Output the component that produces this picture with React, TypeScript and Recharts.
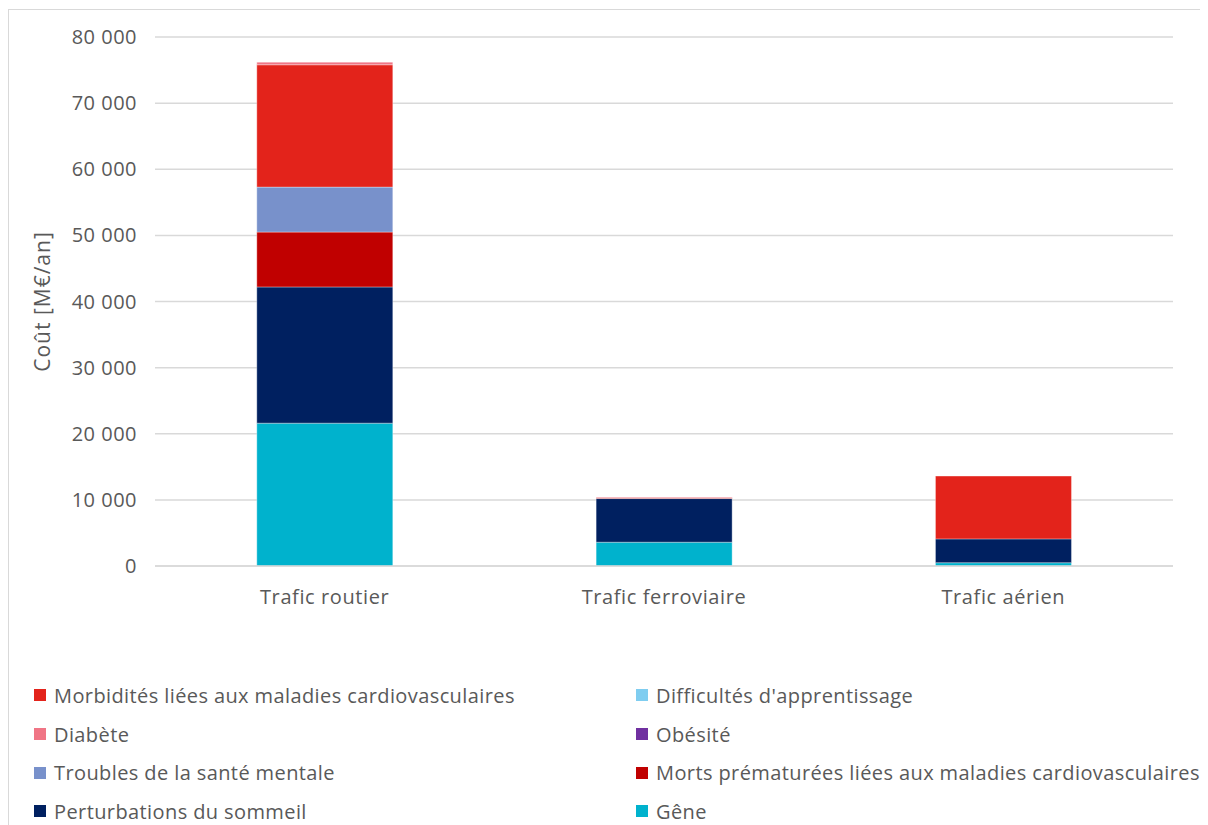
import React from 'react';
import { BarChart, Bar, XAxis, YAxis, CartesianGrid, Label } from 'recharts';

const categories = ['Trafic routier', 'Trafic ferroviaire', 'Trafic aérien'];

// valeurs en M€/an
const gene = [21600, 3600, 500];
const sommeil = [20600, 6600, 3600];
const mortsPrematurees = [8300, 0, 0];
const santeMentale = [6800, 0, 0];
const obesite = [0, 0, 0];
const apprentissage = [0, 0, 0];
const morbidites = [18500, 120, 9500];
const diabete = [400, 100, 0];

const yTicks = [0, 10000, 20000, 30000, 40000, 50000, 60000, 70000, 80000];

// ordre d'empilement, du bas vers le haut
const series = [
  { key: 'gene', name: 'Gêne', color: '#00B2CD', values: gene },
  { key: 'sommeil', name: 'Perturbations du sommeil', color: '#002060', values: sommeil },
  { key: 'morts', name: 'Morts prématurées liées aux maladies cardiovasculaires', color: '#C00000', values: mortsPrematurees },
  { key: 'mentale', name: 'Troubles de la santé mentale', color: '#7891CB', values: santeMentale },
  { key: 'obesite', name: 'Obésité', color: '#7030A0', values: obesite },
  { key: 'apprentissage', name: "Difficultés d'apprentissage", color: '#7FCDF0', values: apprentissage },
  { key: 'morbidites', name: 'Morbidités liées aux maladies cardiovasculaires', color: '#E3231B', values: morbidites },
  { key: 'diabete', name: 'Diabète', color: '#F07585', values: diabete },
];

// ordre de la légende (lignes, de gauche à droite)
const legendOrder = ['morbidites', 'apprentissage', 'diabete', 'obesite', 'mentale', 'morts', 'sommeil', 'gene'];

const data = categories.map((name, i) => {
  const row: Record<string, string | number> = { name };
  series.forEach((s) => {
    row[s.key] = s.values[i];
  });
  return row;
});

const FONT = '"Open Sans", sans-serif';
const TEXT = '#595959';

const formatNumber = (v: number) =>
  v === 0 ? '0' : `${Math.floor(v / 1000)} ${String(v % 1000).padStart(3, '0')}`;

export default function App() {
  return (
    <div
      style={{
        position: 'relative',
        width: 1199,
        height: 816,
        marginTop: 1,
        borderTop: '1px solid #d9d9d9',
        borderLeft: '1px solid #d9d9d9',
        background: '#fff',
        fontFamily: FONT,
        overflow: 'hidden',
      }}
    >
      <BarChart
        width={1198}
        height={640}
        data={data}
        margin={{ top: 27, right: 34, bottom: 44, left: 46 }}
        barCategoryGap="30%"
      >
        <CartesianGrid vertical={false} stroke="#d9d9d9" strokeWidth={1.5} />
        <XAxis
          dataKey="name"
          height={40}
          axisLine={{ stroke: '#d9d9d9', strokeWidth: 1.5 }}
          tickLine={false}
          tickMargin={18}
          tick={{ fill: TEXT, fontSize: 20, fontFamily: FONT, letterSpacing: 0.6 }}
        />
        <YAxis
          width={100}
          domain={[0, 80000]}
          ticks={yTicks}
          axisLine={false}
          tickLine={false}
          tickMargin={12}
          tickFormatter={formatNumber}
          tick={{ fill: TEXT, fontSize: 20, fontFamily: FONT, letterSpacing: 0.5 }}
        >
          <Label
            value="Coût [M€/an]"
            angle={-90}
            position="insideLeft"
            offset={-12}
            style={{ fill: TEXT, fontSize: 21, fontFamily: FONT, textAnchor: 'middle', letterSpacing: 1 }}
          />
        </YAxis>
        {series.map((s) => (
          <Bar
            key={s.key}
            dataKey={s.key}
            name={s.name}
            stackId="a"
            fill={s.color}
            stroke="rgba(255,255,255,0.35)"
            strokeWidth={1}
            isAnimationActive={false}
          />
        ))}
      </BarChart>
      <div
        style={{
          position: 'absolute',
          left: 25,
          top: 666,
          display: 'grid',
          gridTemplateColumns: '602px 580px',
          rowGap: 0,
        }}
      >
        {legendOrder.map((k) => {
          const s = series.find((x) => x.key === k)!;
          return (
            <div
              key={k}
              style={{
                display: 'flex',
                alignItems: 'center',
                height: 38.7,
                color: TEXT,
                fontSize: 20,
                letterSpacing: 0.4,
                whiteSpace: 'nowrap',
              }}
            >
              <span style={{ display: 'inline-block', width: 12, height: 12, background: s.color, marginRight: 8 }} />
              {s.name}
            </div>
          );
        })}
      </div>
    </div>
  );
}
